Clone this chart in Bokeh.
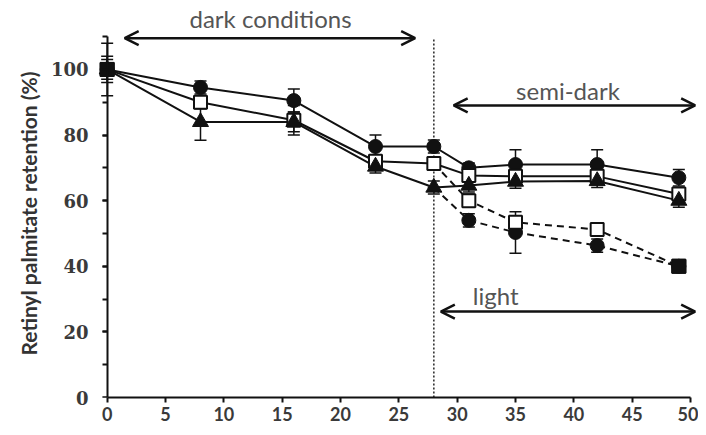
from bokeh.plotting import figure
from bokeh.models import (ColumnDataSource, Whisker, TeeHead, Arrow, OpenHead, Label,
                          SingleIntervalTicker, LinearAxis, Title)
from bokeh.embed import file_html
from bokeh.resources import INLINE

# ---- data (days of storage vs retention %) ----
days = [0, 8, 16, 23, 28, 31, 35, 42, 49]
circle_vals = [100, 94.5, 90.5, 76.5, 76.5, 70, 71, 71, 67]
circle_err = [8, 2, 3.5, 3.5, 2, 1.5, 4.5, 4.5, 2.5]
square_vals = [100, 90, 84.5, 72, 71.3, 67.7, 67.4, 67.4, 62]
square_err = [4, 2, 4.5, 2, 2, 2, 2, 2, 2]
triangle_vals = [100, 84, 84, 70.4, 64, 64.6, 65.8, 66, 60]
triangle_err = [3, 5.6, 3, 2, 2, 2, 2, 2, 2]

light_days = [28, 31, 35, 42, 49]
light_square_vals = [71.3, 60, 53.4, 51.2, 40]
light_square_err = [0, 2, 2, 2, 1]
light_circle_vals = [64, 54, 50.3, 46.3, 40]
light_circle_err = [0, 2, 6.3, 2, 1]

x_ticks_interval = 5
y_ticks_interval = 20
y_title = "Retinyl palmitate retention (%)"

p = figure(width=698, height=427, x_range=(-1.0, 50.6), y_range=(0, 121),
           output_backend="svg", toolbar_location=None, title=None,
           min_border_left=95, min_border_right=1, min_border_top=0, min_border_bottom=30)
p.outline_line_color = None
p.grid.visible = False
p.background_fill_color = "white"

LINE = "#111111"

def src(x, y, e):
    return ColumnDataSource(dict(x=x, y=y, lo=[a - b for a, b in zip(y, e)],
                                 hi=[a + b for a, b in zip(y, e)]))

s_c = src(days, circle_vals, circle_err)
s_s = src(days, square_vals, square_err)
s_t = src(days, triangle_vals, triangle_err)
s_lc = src(light_days, light_circle_vals, light_circle_err)
s_ls = src(light_days, light_square_vals, light_square_err)

# error bars (under markers)
for s in (s_c, s_s, s_t, s_lc, s_ls):
    w = Whisker(source=s, base="x", upper="hi", lower="lo", level="underlay",
                line_color=LINE, line_width=1.5,
                upper_head=TeeHead(size=12, line_color=LINE, line_width=1.5),
                lower_head=TeeHead(size=12, line_color=LINE, line_width=1.5))
    p.add_layout(w)

# dotted divider
p.line(x=[28, 28], y=[0, 109.5], line_color="#333333", line_width=1.6, line_dash="2 2")

# lines
for s in (s_c, s_s, s_t):
    p.line("x", "y", source=s, line_color=LINE, line_width=2)
for s in (s_lc, s_ls):
    p.line("x", "y", source=s, line_color=LINE, line_width=2, line_dash="7 5")

# markers
p.scatter(x=light_days[1:], y=light_circle_vals[1:], marker="circle", size=14,
          fill_color=LINE, line_color=LINE)
p.scatter(x=light_days[1:], y=light_square_vals[1:], marker="square", size=13,
          fill_color="white", line_color=LINE, line_width=2)
p.scatter("x", "y", source=s_c, marker="circle", size=14, fill_color=LINE, line_color=LINE)
p.scatter("x", "y", source=s_s, marker="square", size=13, fill_color="white",
          line_color=LINE, line_width=2)
p.scatter("x", "y", source=s_t, marker="triangle", size=16, fill_color=LINE, line_color=LINE)
p.scatter(x=[light_days[-1], days[0]], y=[light_square_vals[-1], square_vals[0]],
          marker="square", size=14, fill_color=LINE, line_color=LINE)

# x axis
xa = p.xaxis[0]
xa.ticker = SingleIntervalTicker(interval=x_ticks_interval, num_minor_ticks=0)
xa.bounds = (0, 50)
xa.axis_line_color = LINE
xa.axis_line_width = 2
xa.major_tick_line_color = LINE
xa.major_tick_line_width = 2
xa.major_tick_in = 0
xa.major_tick_out = 5
xa.minor_tick_line_color = None
xa.major_label_text_color = "#3a3a3a"
xa.major_label_text_font_style = "bold"
xa.major_label_text_font = "Lato"
xa.major_label_text_font_size = "18px"
xa.major_label_standoff = 4

# y axis labels (at frame edge, no line)
ya = p.yaxis[0]
ya.ticker = SingleIntervalTicker(interval=y_ticks_interval, num_minor_ticks=2)
ya.bounds = (0, 110)
ya.axis_line_color = None
ya.major_tick_line_color = None
ya.minor_tick_line_color = None
ya.major_tick_out = 0
ya.major_tick_in = 0
ya.minor_tick_out = 0
ya.minor_tick_in = 0
ya.major_label_standoff = 7
ya.major_label_text_color = "#3a3a3a"
ya.major_label_text_font_style = "bold"
ya.major_label_text_font = "DejaVu Serif"
ya.major_label_text_font_size = "18px"

# y axis line + ticks at x = 0
yline = LinearAxis(fixed_location=0,
                   ticker=SingleIntervalTicker(interval=y_ticks_interval, num_minor_ticks=2),
                   bounds=(0, 110), axis_line_color=LINE, axis_line_width=2,
                   major_tick_line_color=LINE, minor_tick_line_color=LINE,
                   major_tick_line_width=2, minor_tick_line_width=2,
                   major_tick_in=0, major_tick_out=5, minor_tick_in=0, minor_tick_out=5,
                   major_label_text_alpha=0, major_label_text_font_size="1px",
                   major_label_standoff=0)
p.add_layout(yline, "left")

# y axis title (as a side title so it can be offset along the axis)
p.add_layout(Title(text=y_title, align="left", offset=42, standoff=14,
                   text_font="Lato", text_font_size="21px", text_font_style="bold",
                   text_color="#333333"), "left")

# annotations
arrow_kw = dict(line_color=LINE, line_width=2.5)
def head():
    return OpenHead(size=14, line_color=LINE, line_width=2.5)
p.add_layout(Arrow(x_start=1.5, y_start=109.5, x_end=26.4, y_end=109.5,
                   start=head(), end=head(), **arrow_kw))
p.add_layout(Arrow(x_start=29.7, y_start=89, x_end=50.4, y_end=89,
                   start=head(), end=head(), **arrow_kw))
p.add_layout(Arrow(x_start=28.6, y_start=26.2, x_end=50.4, y_end=26.2,
                   start=head(), end=head(), **arrow_kw))

lab_kw = dict(text_align="center", text_baseline="middle", text_font="Lato",
              text_font_size="24px", text_color="#555555")
p.add_layout(Label(x=14, y=115.5, text="dark conditions", **lab_kw))
p.add_layout(Label(x=39.5, y=93.6, text="semi-dark", **lab_kw))
p.add_layout(Label(x=33.3, y=31, text="light", **lab_kw))

open("out.html", "w").write(file_html(p, INLINE))
